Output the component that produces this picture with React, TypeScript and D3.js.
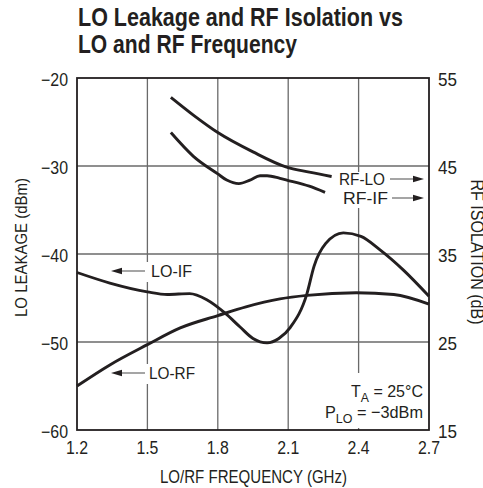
import React from "react";
import * as d3 from "d3";

const W = 483;
const H = 488;

// Axis ticks
const xTicks = [1.2, 1.5, 1.8, 2.1, 2.4, 2.7];
const yLeftTicks = [-60, -50, -40, -30, -20];
const yRightTicks = [15, 25, 35, 45, 55];

// LO-IF leakage (left axis, dBm)
const loIfFreq = [1.2, 1.34, 1.5, 1.585, 1.68, 1.753, 1.83, 1.895, 1.95, 2.01, 2.06, 2.11, 2.18, 2.21, 2.26, 2.335, 2.41, 2.49, 2.59, 2.7];
const loIfVal = [-42.1, -43.3, -44.3, -44.6, -44.5, -45.2, -46.7, -48.3, -49.6, -50.1, -49.6, -48.3, -44.5, -41.4, -38.8, -37.6, -38.0, -39.5, -41.8, -44.8];

// LO-RF leakage (left axis, dBm)
const loRfFreq = [1.2, 1.34, 1.5, 1.64, 1.8, 1.92, 2.065, 2.18, 2.39, 2.55, 2.7];
const loRfVal = [-55.0, -52.6, -50.3, -48.4, -47.0, -46.0, -45.1, -44.7, -44.4, -44.6, -45.7];

// RF-LO isolation (right axis, dB)
const rfLoFreq = [1.6, 1.7, 1.8, 1.95, 2.09, 2.19, 2.285];
const rfLoVal = [52.8, 50.7, 48.8, 46.6, 44.9, 44.3, 43.8];

// RF-IF isolation (right axis, dB)
const rfIfFreq = [1.6, 1.696, 1.8, 1.838, 1.89, 1.937, 1.98, 2.01, 2.065, 2.094, 2.19, 2.257];
const rfIfVal = [48.8, 46.1, 44.1, 43.4, 43.0, 43.4, 43.9, 43.9, 43.6, 43.4, 42.7, 42.0];

const FONT = "'Liberation Sans Narrow', 'Arial Narrow', 'Liberation Sans', sans-serif";
const INK = "#231f20";
const GRID = "#6a6a6a";

export default function App() {
  const x = d3.scaleLinear().domain([1.2, 2.7]).range([77, 429]);
  const yL = d3.scaleLinear().domain([-60, -20]).range([430, 78]);
  const yR = d3.scaleLinear().domain([15, 55]).range([430, 78]);

  const lineL = d3
    .line<[number, number]>()
    .x((d) => x(d[0]))
    .y((d) => yL(d[1]))
    .curve(d3.curveMonotoneX);
  const lineR = d3
    .line<[number, number]>()
    .x((d) => x(d[0]))
    .y((d) => yR(d[1]))
    .curve(d3.curveMonotoneX);

  const zip = (a: number[], b: number[]) => a.map((v, i) => [v, b[i]] as [number, number]);

  const series = [
    lineL(zip(loIfFreq, loIfVal)),
    lineL(zip(loRfFreq, loRfVal)),
    lineR(zip(rfLoFreq, rfLoVal)),
    lineR(zip(rfIfFreq, rfIfVal)),
  ];

  const [x0, x1] = x.range();
  const [y0, y1] = [yL.range()[1], yL.range()[0]];

  const leftArrow = (tipX: number, y: number, endX: number) => (
    <g>
      <line x1={tipX + 8} y1={y} x2={endX} y2={y} stroke={GRID} strokeWidth={1.2} />
      <polygon points={`${tipX},${y} ${tipX + 11},${y - 3.2} ${tipX + 11},${y + 3.2}`} fill={INK} />
    </g>
  );
  const rightArrow = (startX: number, y: number, tipX: number) => (
    <g>
      <line x1={startX} y1={y} x2={tipX - 8} y2={y} stroke={GRID} strokeWidth={1.2} />
      <polygon points={`${tipX},${y} ${tipX - 11},${y - 3.2} ${tipX - 11},${y + 3.2}`} fill={INK} />
    </g>
  );

  return (
    <svg
      width={W}
      height={H}
      style={{ position: "absolute", left: 0, top: 0, background: "#fff" }}
      fontFamily={FONT}
    >
      <rect x={0} y={0} width={W} height={H} fill="#fff" />
      {/* Title */}
      <text x={78} y={26} fontSize={26} fontWeight="bold" fill={INK} textLength={325} lengthAdjust="spacingAndGlyphs">
        LO Leakage and RF Isolation vs
      </text>
      <text x={78} y={53} fontSize={26} fontWeight="bold" fill={INK} textLength={219} lengthAdjust="spacingAndGlyphs">
        LO and RF Frequency
      </text>

      {/* Gridlines */}
      {xTicks.slice(1, -1).map((t) => (
        <line key={"gx" + t} x1={x(t)} x2={x(t)} y1={y0} y2={y1} stroke={GRID} strokeWidth={1.3} />
      ))}
      {yLeftTicks.slice(1, -1).map((t) => (
        <line key={"gy" + t} x1={x0} x2={x1} y1={yL(t)} y2={yL(t)} stroke={GRID} strokeWidth={1.3} />
      ))}

      {/* Label backgrounds that interrupt gridlines */}
      <rect x={144} y={262} width={53} height={20} fill="#fff" />
      <rect x={144} y={364} width={55} height={20} fill="#fff" />
      <rect x={336} y={172} width={56} height={36} fill="#fff" />
      <rect x={322} y={373} width={105} height={55} fill="#fff" />

      {/* Frame */}
      <rect x={x0} y={y0} width={x1 - x0} height={y1 - y0} fill="none" stroke={INK} strokeWidth={1.8} />

      {/* Curves */}
      {series.map((d, i) => (
        <path key={i} d={d || ""} fill="none" stroke={INK} strokeWidth={2.9} strokeLinejoin="round" strokeLinecap="butt" />
      ))}

      {/* In-plot labels */}
      <text x={151} y={277} fontSize={17} fill={INK} textLength={41} lengthAdjust="spacingAndGlyphs">LO-IF</text>
      {leftArrow(111, 271, 145)}
      <text x={149} y={379} fontSize={17} fill={INK} textLength={46} lengthAdjust="spacingAndGlyphs">LO-RF</text>
      {leftArrow(111, 373, 145)}
      <text x={339} y={185} fontSize={17} fill={INK} textLength={46} lengthAdjust="spacingAndGlyphs">RF-LO</text>
      {rightArrow(390, 179, 424)}
      <text x={343} y={204} fontSize={17} fill={INK} textLength={45} lengthAdjust="spacingAndGlyphs">RF-IF</text>
      {rightArrow(392, 198, 424)}

      <text x={351} y={397} fontSize={17} fill={INK} textLength={72} lengthAdjust="spacingAndGlyphs">
        T<tspan fontSize={13} dy={5}>A</tspan>
        <tspan dy={-5}> = 25°C</tspan>
      </text>
      <text x={325} y={418} fontSize={17} fill={INK} textLength={98} lengthAdjust="spacingAndGlyphs">
        P<tspan fontSize={13} dy={5}>LO</tspan>
        <tspan dy={-5}> = −3dBm</tspan>
      </text>

      {/* Tick labels */}
      {yLeftTicks.map((t) => (
        <text key={"yl" + t} x={68} y={yL(t) + 7.5} fontSize={18} fill={INK} textAnchor="end" textLength={27} lengthAdjust="spacingAndGlyphs">
          {"\u2212" + Math.abs(t)}
        </text>
      ))}
      {yRightTicks.map((t) => (
        <text key={"yr" + t} x={438} y={yR(t) + 7.5} fontSize={18} fill={INK} textAnchor="start" textLength={19} lengthAdjust="spacingAndGlyphs">
          {t}
        </text>
      ))}
      {xTicks.map((t) => (
        <text key={"xt" + t} x={x(t)} y={454} fontSize={18} fill={INK} textAnchor="middle" textLength={22} lengthAdjust="spacingAndGlyphs">
          {t.toFixed(1)}
        </text>
      ))}

      {/* Axis titles */}
      <text x={253.5} y={483} fontSize={18} fill={INK} textAnchor="middle" textLength={187} lengthAdjust="spacingAndGlyphs">
        LO/RF FREQUENCY (GHz)
      </text>
      <text
        transform="translate(27,247.5) rotate(-90)"
        fontSize={17}
        fill={INK}
        textAnchor="middle"
        textLength={139}
        lengthAdjust="spacingAndGlyphs"
      >
        LO LEAKAGE (dBm)
      </text>
      <text
        transform="translate(470.5,252) rotate(90)"
        fontSize={18}
        fill={INK}
        textAnchor="middle"
        textLength={145}
        lengthAdjust="spacingAndGlyphs"
      >
        RF ISOLATION (dB)
      </text>
    </svg>
  );
}
